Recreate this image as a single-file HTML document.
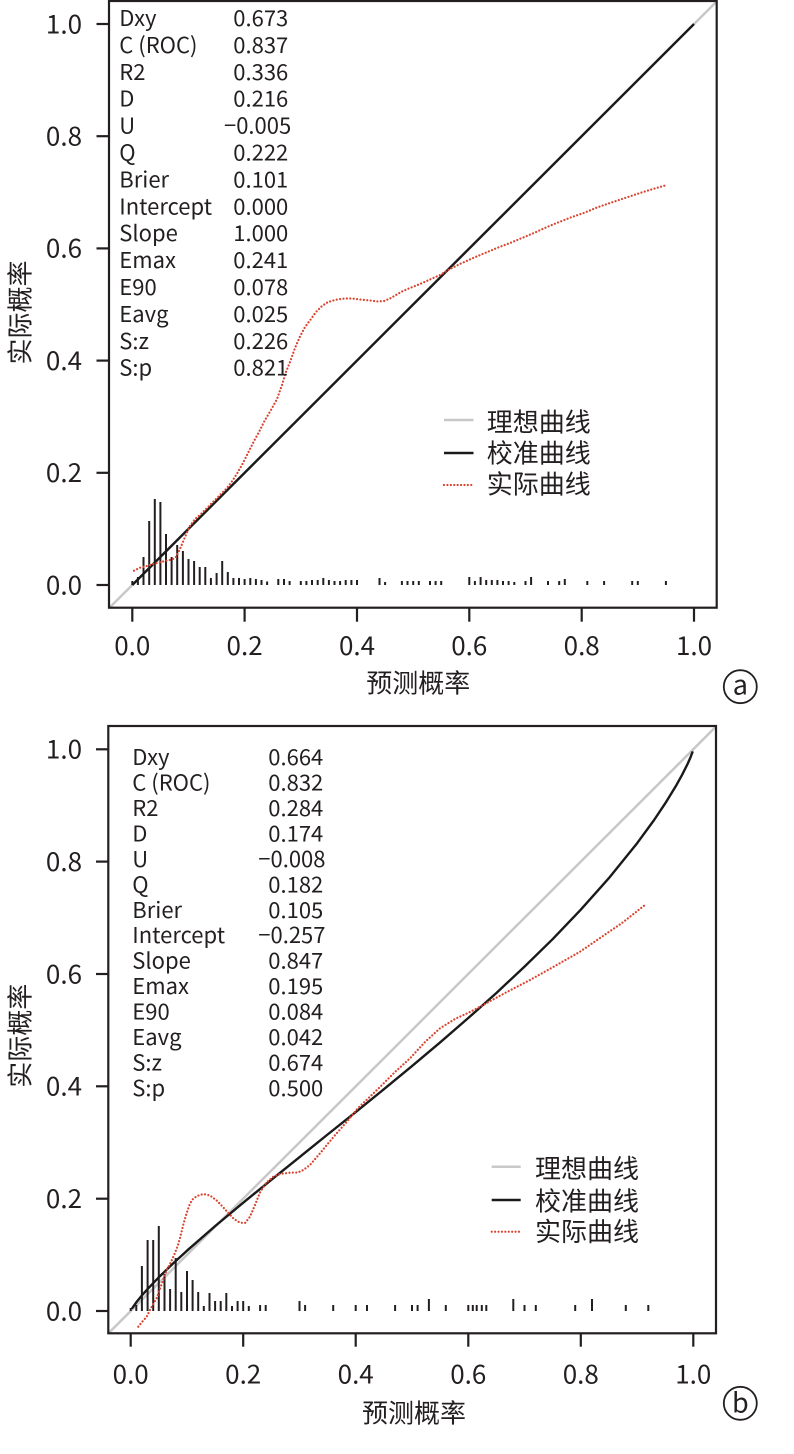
<!DOCTYPE html>
<html>
<head>
<meta charset="utf-8">
<style>
html,body{margin:0;padding:0;background:#fff;}
svg{display:block;}
text{font-family:"Noto Sans CJK SC","Liberation Sans",sans-serif;fill:#231f20;}
.tk{font-size:26px;}
.st{font-size:22px;}
.cj{font-size:26px;}
</style>
</head>
<body>
<svg width="794" height="1454" viewBox="0 0 794 1454" xmlns="http://www.w3.org/2000/svg">
<!-- ================= PANEL A ================= -->
<g>
  <line x1="109.8" y1="607.4" x2="716.5" y2="1.6" stroke="#c8c8c8" stroke-width="2.5"/>
  <g stroke="#231f20" stroke-width="2">
    <line x1="132.3" y1="585" x2="132.3" y2="581"/>
    <line x1="137.9" y1="585" x2="137.9" y2="577"/>
    <line x1="143.5" y1="585" x2="143.5" y2="557"/>
    <line x1="149.2" y1="585" x2="149.2" y2="521"/>
    <line x1="154.8" y1="585" x2="154.8" y2="499"/>
    <line x1="160.4" y1="585" x2="160.4" y2="502"/>
    <line x1="166.0" y1="585" x2="166.0" y2="534"/>
    <line x1="171.6" y1="585" x2="171.6" y2="557"/>
    <line x1="177.2" y1="585" x2="177.2" y2="545"/>
    <line x1="182.9" y1="585" x2="182.9" y2="551"/>
    <line x1="188.5" y1="585" x2="188.5" y2="559"/>
    <line x1="194.1" y1="585" x2="194.1" y2="561"/>
    <line x1="199.7" y1="585" x2="199.7" y2="567"/>
    <line x1="205.3" y1="585" x2="205.3" y2="567"/>
    <line x1="210.9" y1="585" x2="210.9" y2="578"/>
    <line x1="216.6" y1="585" x2="216.6" y2="573"/>
    <line x1="222.2" y1="585" x2="222.2" y2="561"/>
    <line x1="227.8" y1="585" x2="227.8" y2="572"/>
    <line x1="233.4" y1="585" x2="233.4" y2="578"/>
    <line x1="239.0" y1="585" x2="239.0" y2="578"/>
    <line x1="244.6" y1="585" x2="244.6" y2="579"/>
    <line x1="250.3" y1="585" x2="250.3" y2="578"/>
    <line x1="255.9" y1="585" x2="255.9" y2="579"/>
    <line x1="261.5" y1="585" x2="261.5" y2="580"/>
    <line x1="267.1" y1="585" x2="267.1" y2="581.5"/>
    <line x1="278.3" y1="585" x2="278.3" y2="579"/>
    <line x1="284.0" y1="585" x2="284.0" y2="579"/>
    <line x1="289.6" y1="585" x2="289.6" y2="581"/>
    <line x1="300.8" y1="585" x2="300.8" y2="581"/>
    <line x1="306.4" y1="585" x2="306.4" y2="581"/>
    <line x1="312.0" y1="585" x2="312.0" y2="580"/>
    <line x1="317.7" y1="585" x2="317.7" y2="580"/>
    <line x1="323.3" y1="585" x2="323.3" y2="578"/>
    <line x1="328.9" y1="585" x2="328.9" y2="580"/>
    <line x1="334.5" y1="585" x2="334.5" y2="581"/>
    <line x1="340.1" y1="585" x2="340.1" y2="581"/>
    <line x1="345.7" y1="585" x2="345.7" y2="580"/>
    <line x1="351.4" y1="585" x2="351.4" y2="580"/>
    <line x1="357.0" y1="585" x2="357.0" y2="580"/>
    <line x1="379.5" y1="585" x2="379.5" y2="578"/>
    <line x1="385.1" y1="585" x2="385.1" y2="582"/>
    <line x1="401.9" y1="585" x2="401.9" y2="581"/>
    <line x1="407.5" y1="585" x2="407.5" y2="581"/>
    <line x1="413.2" y1="585" x2="413.2" y2="581"/>
    <line x1="418.8" y1="585" x2="418.8" y2="581"/>
    <line x1="430.0" y1="585" x2="430.0" y2="581"/>
    <line x1="435.6" y1="585" x2="435.6" y2="581"/>
    <line x1="441.2" y1="585" x2="441.2" y2="581"/>
    <line x1="469.3" y1="585" x2="469.3" y2="577"/>
    <line x1="474.9" y1="585" x2="474.9" y2="581"/>
    <line x1="480.6" y1="585" x2="480.6" y2="577"/>
    <line x1="486.2" y1="585" x2="486.2" y2="580"/>
    <line x1="491.8" y1="585" x2="491.8" y2="580"/>
    <line x1="497.4" y1="585" x2="497.4" y2="580"/>
    <line x1="503.0" y1="585" x2="503.0" y2="581"/>
    <line x1="508.6" y1="585" x2="508.6" y2="581"/>
    <line x1="514.3" y1="585" x2="514.3" y2="582"/>
    <line x1="525.5" y1="585" x2="525.5" y2="581"/>
    <line x1="531.1" y1="585" x2="531.1" y2="577"/>
    <line x1="548.0" y1="585" x2="548.0" y2="581"/>
    <line x1="559.2" y1="585" x2="559.2" y2="581"/>
    <line x1="564.8" y1="585" x2="564.8" y2="579"/>
    <line x1="587.3" y1="585" x2="587.3" y2="581"/>
    <line x1="604.1" y1="585" x2="604.1" y2="581"/>
    <line x1="632.2" y1="585" x2="632.2" y2="581"/>
    <line x1="637.8" y1="585" x2="637.8" y2="581"/>
    <line x1="665.9" y1="585" x2="665.9" y2="581"/>
  </g>
  <line x1="132.3" y1="585" x2="694" y2="24" stroke="#1a1a1a" stroke-width="2.4"/>
  <polyline fill="none" stroke="#d9442f" stroke-width="2.2" stroke-linecap="round" stroke-dasharray="0.01 3.4"
    points="134,570.7 140,567.7 147,566 155,563.5 165,561 172,559.5 176,557 180,549 185,537 190,526 195,519 200,515 210,505 220,495 227,488 233,480 238,472 243,463 248,453 253,443 259,432 265,420 271,410 277,399 282,385 286,372 290,362 295,348 300,336.5 305,327 311,319 316,312 322,306 328,302 337,299.5 345,298.5 352,298.5 360,299.5 370,300.5 378,301.5 384,301 390,298.5 396,295 402,291.5 410,288 420,284 430,279.5 440,275 450,269 460,264 472,258.5 485,253 497,248 510,243 522,238 535,232.5 547,227 560,221.7 572,217 585,212.5 597,207.5 610,203 625,198 640,193 653,189 666.7,185"/>
  <rect x="109" y="1" width="607.7" height="606.7" fill="none" stroke="#231f20" stroke-width="2.2"/>
  <g stroke="#231f20" stroke-width="2.2">
    <line x1="96.5" y1="585" x2="109" y2="585"/>
    <line x1="96.5" y1="472.8" x2="109" y2="472.8"/>
    <line x1="96.5" y1="360.6" x2="109" y2="360.6"/>
    <line x1="96.5" y1="248.4" x2="109" y2="248.4"/>
    <line x1="96.5" y1="136.2" x2="109" y2="136.2"/>
    <line x1="96.5" y1="24" x2="109" y2="24"/>
    <line x1="132.3" y1="607.7" x2="132.3" y2="621.7"/>
    <line x1="244.6" y1="607.7" x2="244.6" y2="621.7"/>
    <line x1="357.0" y1="607.7" x2="357.0" y2="621.7"/>
    <line x1="469.3" y1="607.7" x2="469.3" y2="621.7"/>
    <line x1="581.7" y1="607.7" x2="581.7" y2="621.7"/>
    <line x1="694" y1="607.7" x2="694" y2="621.7"/>
  </g>
  <g class="tk" text-anchor="end">
    <text x="82" y="594.3">0.0</text>
    <text x="82" y="482.1">0.2</text>
    <text x="82" y="369.9">0.4</text>
    <text x="82" y="257.7">0.6</text>
    <text x="82" y="145.5">0.8</text>
    <text x="82" y="33.3">1.0</text>
  </g>
  <g class="tk" text-anchor="middle">
    <text x="132.3" y="655">0.0</text>
    <text x="244.6" y="655">0.2</text>
    <text x="357.0" y="655">0.4</text>
    <text x="469.3" y="655">0.6</text>
    <text x="581.7" y="655">0.8</text>
    <text x="694" y="655">1.0</text>
  </g>
  <g class="st">
    <text x="119.3" y="26">Dxy</text>
    <text x="119.3" y="52.9">C (ROC)</text>
    <text x="119.3" y="79.8">R2</text>
    <text x="119.3" y="106.7">D</text>
    <text x="119.3" y="133.6">U</text>
    <text x="119.3" y="160.5">Q</text>
    <text x="119.3" y="187.4">Brier</text>
    <text x="119.3" y="214.3">Intercept</text>
    <text x="119.3" y="241.2">Slope</text>
    <text x="119.3" y="268.1">Emax</text>
    <text x="119.3" y="295">E90</text>
    <text x="119.3" y="321.9">Eavg</text>
    <text x="119.3" y="348.8">S:z</text>
    <text x="119.3" y="375.7">S:p</text>
  </g>
  <g class="st">
    <text x="233.3" y="26">0.673</text>
    <text x="233.3" y="52.9">0.837</text>
    <text x="233.3" y="79.8">0.336</text>
    <text x="233.3" y="106.7">0.216</text>
    <text x="224" y="133.6">−0.005</text>
    <text x="233.3" y="160.5">0.222</text>
    <text x="233.3" y="187.4">0.101</text>
    <text x="233.3" y="214.3">0.000</text>
    <text x="233.3" y="241.2">1.000</text>
    <text x="233.3" y="268.1">0.241</text>
    <text x="233.3" y="295">0.078</text>
    <text x="233.3" y="321.9">0.025</text>
    <text x="233.3" y="348.8">0.226</text>
    <text x="233.3" y="375.7">0.821</text>
  </g>
  <line x1="444" y1="420" x2="473.5" y2="420" stroke="#c8c8c8" stroke-width="2.5"/>
  <line x1="444" y1="453" x2="473.5" y2="453" stroke="#1a1a1a" stroke-width="2.5"/>
  <line x1="444" y1="485" x2="473.5" y2="485" stroke="#d9442f" stroke-width="2.2" stroke-linecap="round" stroke-dasharray="0.01 3.4"/>
  <g class="cj">
    <text x="486.7" y="431.5">理想曲线</text>
    <text x="486.7" y="462.5">校准曲线</text>
    <text x="486.7" y="493.5">实际曲线</text>
  </g>
  <text class="cj" x="418.3" y="692.4" text-anchor="middle">预测概率</text>
  <text class="cj" transform="translate(29.4,312.5) rotate(-90)" text-anchor="middle">实际概率</text>
  <circle cx="740.3" cy="686.7" r="16.5" fill="none" stroke="#231f20" stroke-width="1.8"/>
  <text x="740.3" y="694.5" text-anchor="middle" style="font-size:27px">a</text>
</g>

<!-- ================= PANEL B ================= -->
<g>
  <line x1="108.2" y1="1333.5" x2="715.8" y2="726.8" stroke="#c8c8c8" stroke-width="2.5"/>
  <g stroke="#231f20" stroke-width="2">
    <line x1="130.7" y1="1311" x2="130.7" y2="1308"/>
    <line x1="136.3" y1="1311" x2="136.3" y2="1305"/>
    <line x1="141.9" y1="1311" x2="141.9" y2="1266"/>
    <line x1="147.6" y1="1311" x2="147.6" y2="1240"/>
    <line x1="153.2" y1="1311" x2="153.2" y2="1240"/>
    <line x1="158.8" y1="1311" x2="158.8" y2="1226"/>
    <line x1="164.5" y1="1311" x2="164.5" y2="1274"/>
    <line x1="170.1" y1="1311" x2="170.1" y2="1289"/>
    <line x1="175.7" y1="1311" x2="175.7" y2="1258"/>
    <line x1="181.3" y1="1311" x2="181.3" y2="1292"/>
    <line x1="187.0" y1="1311" x2="187.0" y2="1271"/>
    <line x1="192.6" y1="1311" x2="192.6" y2="1280"/>
    <line x1="198.2" y1="1311" x2="198.2" y2="1292"/>
    <line x1="203.8" y1="1311" x2="203.8" y2="1306"/>
    <line x1="209.5" y1="1311" x2="209.5" y2="1293"/>
    <line x1="215.1" y1="1311" x2="215.1" y2="1301"/>
    <line x1="220.7" y1="1311" x2="220.7" y2="1301"/>
    <line x1="226.3" y1="1311" x2="226.3" y2="1293"/>
    <line x1="232.0" y1="1311" x2="232.0" y2="1306"/>
    <line x1="237.6" y1="1311" x2="237.6" y2="1301"/>
    <line x1="243.2" y1="1311" x2="243.2" y2="1301"/>
    <line x1="248.8" y1="1311" x2="248.8" y2="1306"/>
    <line x1="260.1" y1="1311" x2="260.1" y2="1305"/>
    <line x1="265.7" y1="1311" x2="265.7" y2="1305"/>
    <line x1="299.5" y1="1311" x2="299.5" y2="1301"/>
    <line x1="305.1" y1="1311" x2="305.1" y2="1305"/>
    <line x1="333.2" y1="1311" x2="333.2" y2="1305"/>
    <line x1="355.7" y1="1311" x2="355.7" y2="1305"/>
    <line x1="367.0" y1="1311" x2="367.0" y2="1305"/>
    <line x1="395.1" y1="1311" x2="395.1" y2="1305"/>
    <line x1="412.0" y1="1311" x2="412.0" y2="1305"/>
    <line x1="417.6" y1="1311" x2="417.6" y2="1305"/>
    <line x1="428.9" y1="1311" x2="428.9" y2="1299"/>
    <line x1="445.8" y1="1311" x2="445.8" y2="1305"/>
    <line x1="468.3" y1="1311" x2="468.3" y2="1305"/>
    <line x1="472.8" y1="1311" x2="472.8" y2="1305"/>
    <line x1="476.7" y1="1311" x2="476.7" y2="1305"/>
    <line x1="481.8" y1="1311" x2="481.8" y2="1305"/>
    <line x1="486.3" y1="1311" x2="486.3" y2="1305"/>
    <line x1="513.3" y1="1311" x2="513.3" y2="1299"/>
    <line x1="524.5" y1="1311" x2="524.5" y2="1305"/>
    <line x1="535.8" y1="1311" x2="535.8" y2="1305"/>
    <line x1="575.2" y1="1311" x2="575.2" y2="1305"/>
    <line x1="592.0" y1="1311" x2="592.0" y2="1299"/>
    <line x1="625.8" y1="1311" x2="625.8" y2="1305"/>
    <line x1="648.3" y1="1311" x2="648.3" y2="1305"/>
  </g>
  <polyline fill="none" stroke="#1a1a1a" stroke-width="2.4" stroke-linejoin="round"
    points="131.83,1308.75 136.33,1302.28 141.95,1295.37 147.58,1289.03 158.83,1277.27 172.90,1263.63 186.96,1250.70 215.09,1226.13 243.22,1202.65 271.35,1179.8 299.48,1157.13 327.6,1134.5 355.74,1112.01 383.9,1089.2 412.00,1066.03 440.1,1042.4 468.26,1018.02 496.4,993 524.52,966.57 552.6,939.2 580.78,909.68 608.91,878.11 637.04,843.33 653.92,820.24 665.17,803.47 676.42,785.08 682.05,774.95 687.67,763.74 690.49,757.39 692.74,751.39"/>
  <polyline fill="none" stroke="#d9442f" stroke-width="2.2" stroke-linecap="round" stroke-dasharray="0.01 3.4"
    points="138.3,1326.7 142,1322 146.7,1316.7 151,1308 156.7,1298 161,1286 166.7,1270 171,1262 175,1253 178,1245 180,1238 182,1230 184,1222 187,1212 190,1203.5 193,1199 197,1196 203.3,1194 210,1195.5 216.7,1200.5 222,1206 228.3,1213 234,1219 240,1222.7 245,1223 250,1216.7 255,1205 260,1192.5 266,1183 273.3,1176.7 280,1174 290,1172.7 298,1172.5 303.3,1170 310,1165 320,1153.3 328,1143.5 336.7,1133.3 348.3,1120 358,1108 370,1096.7 380,1087 395,1072 410,1058.3 425,1042 440,1028.3 455,1019 470,1012 480,1006.7 505,993 530,980 555,966 580,951.7 600,938 622,923 645,905"/>
  <rect x="108.3" y="726" width="607.7" height="607.3" fill="none" stroke="#231f20" stroke-width="2.2"/>
  <g stroke="#231f20" stroke-width="2.2">
    <line x1="96" y1="1311" x2="108.3" y2="1311"/>
    <line x1="96" y1="1198.7" x2="108.3" y2="1198.7"/>
    <line x1="96" y1="1086.3" x2="108.3" y2="1086.3"/>
    <line x1="96" y1="974" x2="108.3" y2="974"/>
    <line x1="96" y1="861.6" x2="108.3" y2="861.6"/>
    <line x1="96" y1="749.3" x2="108.3" y2="749.3"/>
    <line x1="130.7" y1="1333.3" x2="130.7" y2="1346.7"/>
    <line x1="243.2" y1="1333.3" x2="243.2" y2="1346.7"/>
    <line x1="355.7" y1="1333.3" x2="355.7" y2="1346.7"/>
    <line x1="468.3" y1="1333.3" x2="468.3" y2="1346.7"/>
    <line x1="580.8" y1="1333.3" x2="580.8" y2="1346.7"/>
    <line x1="693.3" y1="1333.3" x2="693.3" y2="1346.7"/>
  </g>
  <g class="tk" text-anchor="end">
    <text x="82" y="1320.3">0.0</text>
    <text x="82" y="1208">0.2</text>
    <text x="82" y="1095.6">0.4</text>
    <text x="82" y="983.3">0.6</text>
    <text x="82" y="870.9">0.8</text>
    <text x="82" y="758.6">1.0</text>
  </g>
  <g class="tk" text-anchor="middle">
    <text x="130.7" y="1383.3">0.0</text>
    <text x="243.2" y="1383.3">0.2</text>
    <text x="355.7" y="1383.3">0.4</text>
    <text x="468.3" y="1383.3">0.6</text>
    <text x="580.8" y="1383.3">0.8</text>
    <text x="693.3" y="1383.3">1.0</text>
  </g>
  <g class="st">
    <text x="132.3" y="765">Dxy</text>
    <text x="132.3" y="790.5">C (ROC)</text>
    <text x="132.3" y="815.9">R2</text>
    <text x="132.3" y="841.4">D</text>
    <text x="132.3" y="866.8">U</text>
    <text x="132.3" y="892.3">Q</text>
    <text x="132.3" y="917.8">Brier</text>
    <text x="132.3" y="943.2">Intercept</text>
    <text x="132.3" y="968.7">Slope</text>
    <text x="132.3" y="994.1">Emax</text>
    <text x="132.3" y="1019.6">E90</text>
    <text x="132.3" y="1045.1">Eavg</text>
    <text x="132.3" y="1070.5">S:z</text>
    <text x="132.3" y="1096">S:p</text>
  </g>
  <g class="st">
    <text x="268.3" y="765">0.664</text>
    <text x="268.3" y="790.5">0.832</text>
    <text x="268.3" y="815.9">0.284</text>
    <text x="268.3" y="841.4">0.174</text>
    <text x="258.3" y="866.8">−0.008</text>
    <text x="268.3" y="892.3">0.182</text>
    <text x="268.3" y="917.8">0.105</text>
    <text x="258.3" y="943.2">−0.257</text>
    <text x="268.3" y="968.7">0.847</text>
    <text x="268.3" y="994.1">0.195</text>
    <text x="268.3" y="1019.6">0.084</text>
    <text x="268.3" y="1045.1">0.042</text>
    <text x="268.3" y="1070.5">0.674</text>
    <text x="268.3" y="1096">0.500</text>
  </g>
  <line x1="491.7" y1="1166.7" x2="520.7" y2="1166.7" stroke="#c8c8c8" stroke-width="2.5"/>
  <line x1="491.7" y1="1200" x2="520.7" y2="1200" stroke="#1a1a1a" stroke-width="2.5"/>
  <line x1="491.7" y1="1231.7" x2="520.7" y2="1231.7" stroke="#d9442f" stroke-width="2.2" stroke-linecap="round" stroke-dasharray="0.01 3.4"/>
  <g class="cj">
    <text x="535" y="1178">理想曲线</text>
    <text x="535" y="1210.5">校准曲线</text>
    <text x="535" y="1241">实际曲线</text>
  </g>
  <text class="cj" x="414" y="1422.4" text-anchor="middle">预测概率</text>
  <text class="cj" transform="translate(29.4,1035.8) rotate(-90)" text-anchor="middle">实际概率</text>
  <circle cx="740.3" cy="1403.3" r="16.5" fill="none" stroke="#231f20" stroke-width="1.8"/>
  <text x="740.3" y="1412.5" text-anchor="middle" style="font-size:27px">b</text>
</g>
</svg>
</body>
</html>
